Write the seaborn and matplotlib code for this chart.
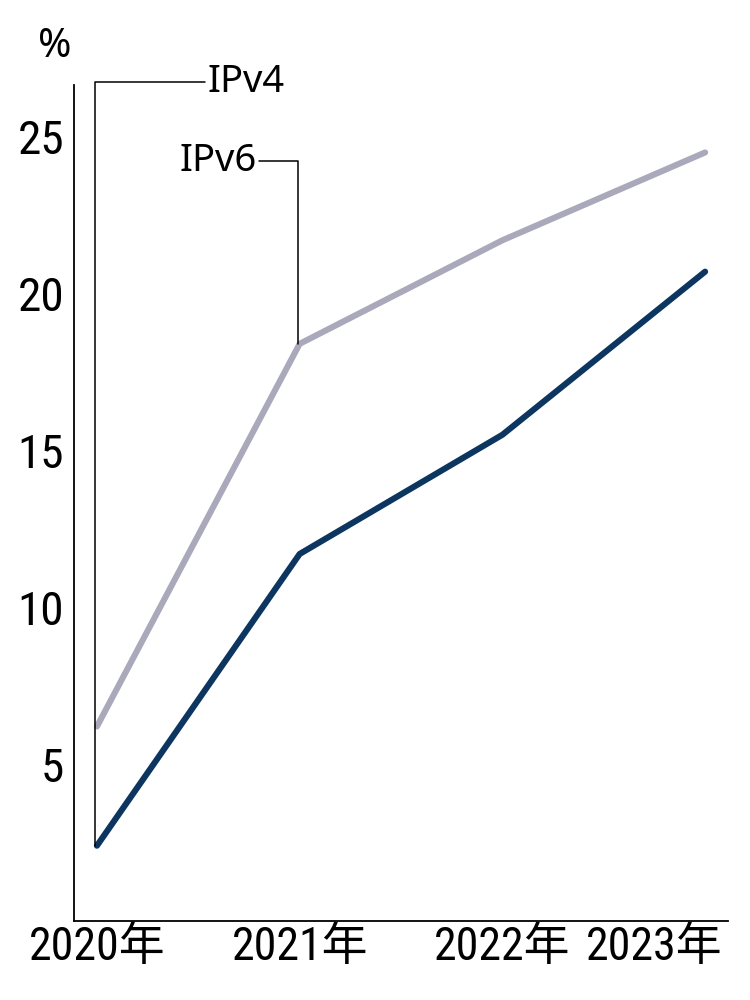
import matplotlib
matplotlib.use("Agg")
import matplotlib.pyplot as plt
import matplotlib.transforms as mtransforms
import seaborn as sns
import pandas as pd

years = [2020, 2021, 2022, 2023]
year_labels = ["2020年", "2021年", "2022年", "2023年"]
ipv6 = [6.2, 18.4, 21.7, 24.5]
ipv4 = [2.4, 11.7, 15.5, 20.7]
yticks = [5, 10, 15, 20, 25]

sns.set_theme(style="white")
plt.rcParams['font.family'] = ['Noto Sans CJK JP', 'DejaVu Sans']
plt.rcParams['text.color'] = 'black'
plt.rcParams['xtick.color'] = 'black'
plt.rcParams['ytick.color'] = 'black'

df = pd.DataFrame({"year": years * 2,
                   "value": ipv6 + ipv4,
                   "series": ["IPv6"] * 4 + ["IPv4"] * 4})

fig = plt.figure(figsize=(7.5, 10), dpi=100)
ax = fig.add_axes([0.0987, 0.079, 0.8720, 0.836])

palette = {"IPv6": "#a9a9bb", "IPv4": "#0c3560"}
sns.lineplot(data=df, x="year", y="value", hue="series", palette=palette,
             linewidth=4.4, ax=ax, legend=False, solid_capstyle="round")

ax.set_xlim(2019.887, 2023.113)
ax.set_ylim(0, 26.65)

for s in ["top", "right"]:
    ax.spines[s].set_visible(False)
for s in ["left", "bottom"]:
    ax.spines[s].set_color("black")
    ax.spines[s].set_linewidth(1.3)

cond = ['Roboto Condensed', 'Noto Sans CJK JP']
ax.set_yticks(yticks)
ax.set_yticklabels([str(v) for v in yticks], fontsize=34, family=cond, fontweight=400)
ax.set_xticks(years)
ax.set_xticklabels(year_labels, fontsize=33, family=cond)
ax.tick_params(axis="both", direction="in", length=7, width=1.0, color="black")
ax.tick_params(axis="y", pad=7)
ax.tick_params(axis="x", pad=3)
ax.set_xlabel("")
ax.set_ylabel("")

# shift last x label to the left so it fits
lbl = ax.get_xticklabels()[-1]
lbl.set_horizontalalignment("right")
lbl.set_transform(lbl.get_transform() + mtransforms.ScaledTranslation(17 / 100, 0, fig.dpi_scale_trans))

# percent sign
fig.text(55 / 750, 1 - 47 / 1000, "%", fontsize=29, ha="center", va="center",
         family=['Noto Sans', 'DejaVu Sans'])

# leader lines
lc = "black"
lw = 1.1
x4 = 2020 - 2 / 203
y_top4 = (922 - 82) / 31.4
x4_end = 2020 + 108 / 203
ax.plot([x4, x4, x4_end], [ipv4[0], y_top4, y_top4], color=lc, lw=lw, clip_on=False)
ax.text(x4_end + 3 / 203, y_top4, "IPv4", fontsize=27.5, ha="left", va="center",
        family=['Noto Sans', 'DejaVu Sans'])

x6 = 2021 - 2 / 203
y_top6 = (922 - 161) / 31.4
x6_start = 2021 - 41 / 203
ax.plot([x6_start, x6, x6], [y_top6, y_top6, ipv6[1]], color=lc, lw=lw, clip_on=False)
ax.text(x6_start - 2 / 203, y_top6, "IPv6", fontsize=27.5, ha="right", va="center",
        family=['Noto Sans', 'DejaVu Sans'])

fig.savefig("out.png", dpi=100, facecolor="white")
